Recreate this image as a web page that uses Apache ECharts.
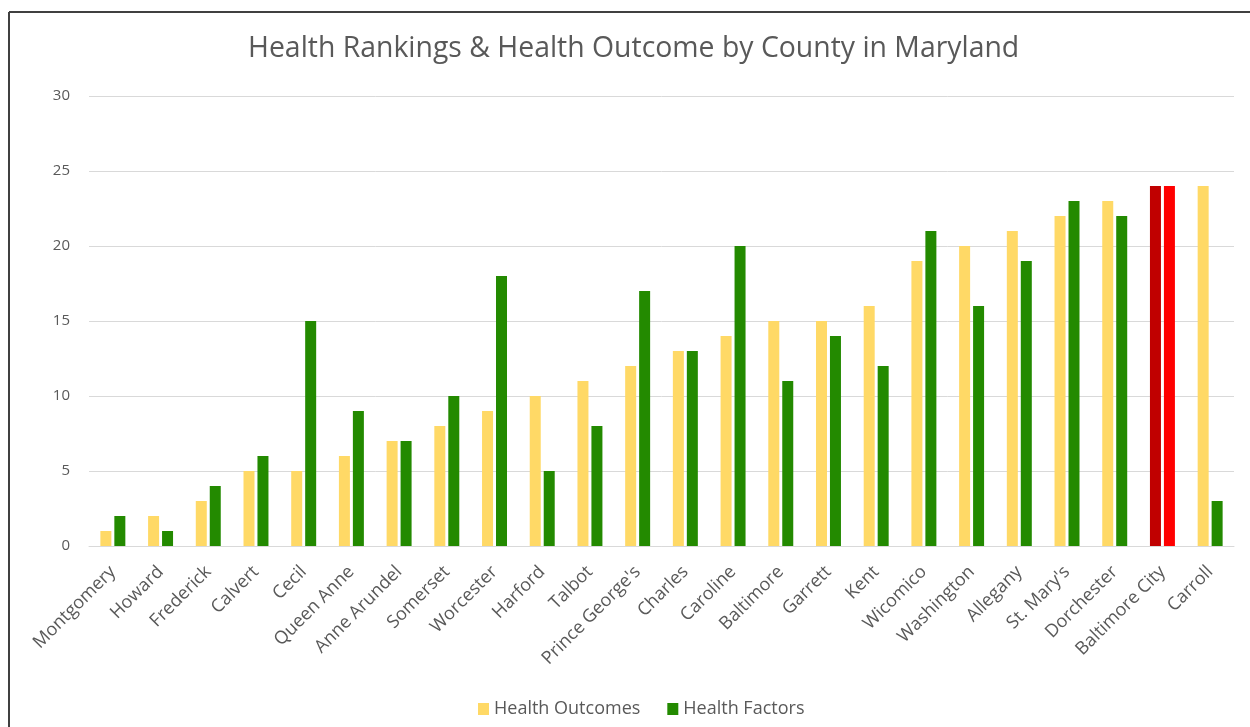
<!DOCTYPE html>
<html>
<head>
<meta charset="utf-8">
<script src="https://cdn.jsdelivr.net/npm/echarts@6/dist/echarts.min.js"></script>
<style>
  html, body { margin: 0; padding: 0; background: #fff; }
  #chart { width: 1250px; height: 727px; }
</style>
</head>
<body>
<div id="chart"></div>
<script>
// County ranks in Maryland (1 = best)
const counties = ["Montgomery", "Howard", "Frederick", "Calvert", "Cecil", "Queen Anne", "Anne Arundel",
  "Somerset", "Worcester", "Harford", "Talbot", "Prince George's", "Charles", "Caroline", "Baltimore",
  "Garrett", "Kent", "Wicomico", "Washington", "Allegany", "St. Mary's", "Dorchester", "Baltimore City", "Carroll"];
const healthOutcomes = [1, 2, 3, 5, 5, 6, 7, 8, 9, 10, 11, 12, 13, 14, 15, 15, 16, 19, 20, 21, 22, 23, 24, 24];
const healthFactors  = [2, 1, 4, 6, 15, 9, 7, 10, 18, 5, 8, 17, 13, 20, 11, 14, 12, 21, 16, 19, 23, 22, 24, 3];
const yTicks = [0, 5, 10, 15, 20, 25, 30];

// Baltimore City is highlighted in red
const highlight = "Baltimore City";
const outcomeColor = "#FFD966", factorColor = "#238A00";

const chart = echarts.init(document.getElementById("chart"));
const textColor = "#595959";
const font = "'Open Sans', 'DejaVu Sans', sans-serif";

chart.setOption({
  backgroundColor: "#fff",
  animation: false,
  title: {
    text: "Health Rankings & Health Outcome by County in Maryland",
    left: 243,
    top: 30,
    textStyle: { fontFamily: font, fontSize: 28.4, fontWeight: "normal", color: textColor }
  },
  legend: {
    bottom: 4,
    left: 473,
    itemWidth: 11,
    itemHeight: 12,
    itemGap: 27,
    icon: "rect",
    textStyle: { fontFamily: font, fontSize: 18, color: textColor },
    data: ["Health Outcomes", "Health Factors"]
  },
  grid: { left: 89, right: 16, top: 96, bottom: 181, containLabel: false },
  xAxis: {
    type: "category",
    data: counties,
    axisTick: { show: false },
    axisLine: { lineStyle: { color: "#D9D9D9", width: 1 } },
    axisLabel: {
      rotate: 45,
      interval: 0,
      margin: 23,
      fontFamily: font,
      fontSize: 18,
      color: textColor
    }
  },
  yAxis: {
    type: "value",
    min: yTicks[0],
    max: yTicks[yTicks.length - 1],
    interval: yTicks[1] - yTicks[0],
    axisLine: { show: false },
    axisTick: { show: false },
    splitLine: { lineStyle: { color: "#D9D9D9", width: 1 } },
    axisLabel: { margin: 19, fontFamily: font, fontSize: 15, color: textColor }
  },
  series: [
    {
      name: "Health Outcomes",
      type: "bar",
      barWidth: 11,
      barGap: "27%",
      itemStyle: { color: outcomeColor },
      data: healthOutcomes.map((v, i) => counties[i] === highlight
        ? { value: v, itemStyle: { color: "#C00000" } } : v)
    },
    {
      name: "Health Factors",
      type: "bar",
      barWidth: 11,
      itemStyle: { color: factorColor },
      data: healthFactors.map((v, i) => counties[i] === highlight
        ? { value: v, itemStyle: { color: "#FF0000" } } : v)
    }
  ],
  graphic: [
    { type: "line", shape: { x1: 9, y1: 12, x2: 1250, y2: 12 }, style: { stroke: "#404040", lineWidth: 2 } },
    { type: "line", shape: { x1: 9, y1: 12, x2: 9, y2: 727 }, style: { stroke: "#404040", lineWidth: 2 } }
  ]
});
</script>
</body>
</html>
